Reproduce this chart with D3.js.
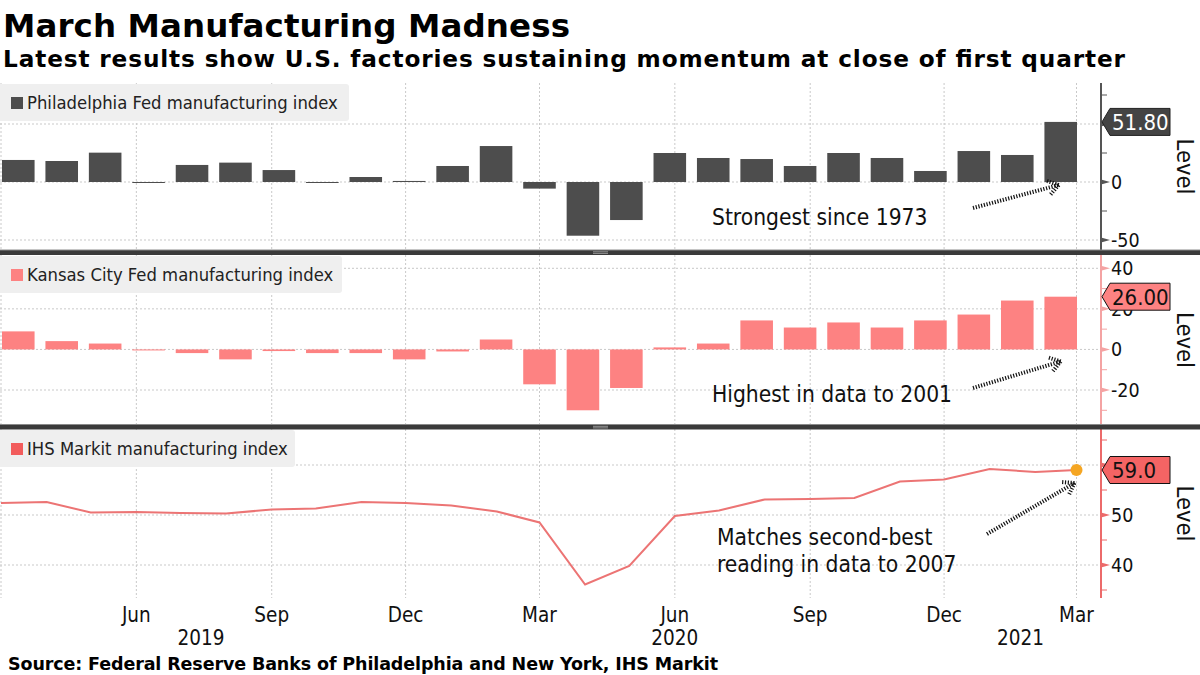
<!DOCTYPE html>
<html><head><meta charset="utf-8">
<script src="https://cdn.jsdelivr.net/npm/d3@7"></script>
<style>
html,body{margin:0;padding:0;background:#fff;}
svg{display:block;}
text{font-family:"DejaVu Sans Condensed","DejaVu Sans",sans-serif;}
text.bold{font-family:"DejaVu Sans",sans-serif;font-weight:bold;}
</style></head><body><svg id="c" width="1200" height="675"></svg>
<script>
// ---------------- data ----------------
const months = ["2019-03","2019-04","2019-05","2019-06","2019-07","2019-08","2019-09","2019-10","2019-11","2019-12",
  "2020-01","2020-02","2020-03","2020-04","2020-05","2020-06","2020-07","2020-08","2020-09","2020-10","2020-11","2020-12",
  "2021-01","2021-02","2021-03"];
const phillyFed = [19.0,18.1,25.3,-0.5,14.7,16.7,10.3,-0.5,4.3,0.9,13.8,31.0,-5.7,-46.3,-32.8,25.0,20.7,19.8,13.8,25.0,20.7,9.5,26.7,23.3,51.8];
const kansasCityFed = [8.9,4.1,2.9,-0.2,-1.8,-4.9,-0.8,-1.8,-1.8,-4.9,-1.0,4.9,-17.2,-30.0,-19.0,1.0,2.9,14.3,10.8,13.3,10.8,14.3,17.2,24.1,26.0];
const ihsMarkit = [52.4,52.6,50.5,50.6,50.4,50.3,51.1,51.3,52.6,52.4,51.9,50.7,48.5,36.1,39.8,49.8,50.9,53.1,53.2,53.4,56.7,57.1,59.2,58.6,59.0];
const seriesNames = ["Philadelphia Fed manufacturing index","Kansas City Fed manufacturing index","IHS Markit manufacturing index"];
const lastLabels = ["51.80","26.00","59.0"];
const phillyTicks = [-50,0,50], phillyMinor = [-25,25,75], phillyLabels = [-50,0];
const kcTicks = [-20,0,20,40], kcMinor = [-30,-10,10,30], kcLabels = [-20,0,20,40];
const ihsTicks = [40,50,60], ihsMinor = [35,45,55,65], ihsLabels = [40,50];
const quarterTicks = ["2019-03","2019-06","2019-09","2019-12","2020-03","2020-06","2020-09","2020-12","2021-03"];
const yearLabels = [["2019","2019-07-15"],["2020","2020-06-01"],["2021","2021-01-22"]];
const annotations = [["Strongest since 1973"],["Highest in data to 2001"],["Matches second-best","reading in data to 2007"]];
const title = "March Manufacturing Madness";
const subtitle = "Latest results show U.S. factories sustaining momentum at close of first quarter";
const source = "Source: Federal Reserve Banks of Philadelphia and New York, IHS Markit";

// ---------------- setup ----------------
const svg = d3.select("#c");
const W = 1200, H = 675, axisX = 1101;
const parseM = d3.timeParse("%Y-%m"), parseD = d3.timeParse("%Y-%m-%d");
const dates = months.map(parseM);
svg.append("rect").attr("width",W).attr("height",H).attr("fill","#fff");

const xTime = d3.scaleTime().domain([parseM("2019-03"), parseM("2021-03")]).range([1, 1076.5]);
const xBand = d3.scaleBand().domain(months).range([2, 1077]).paddingInner(0.25).paddingOuter(0);

const panels = [
  {top:83, bottom:250, y:d3.scaleLinear().domain([-50,50]).range([240,124]), major:phillyTicks, minor:phillyMinor, labels:phillyLabels,
   axisColor:"#555555", color:"#4d4d4d", flagFill:"#444444", flagText:"#ffffff", flagStroke:"#222", data:phillyFed, type:"bar"},
  {top:255, bottom:425, y:d3.scaleLinear().domain([-20,40]).range([390,268.3]), major:kcTicks, minor:kcMinor, labels:kcLabels,
   axisColor:"#f4a3a3", color:"#fd8282", flagFill:"#fd8282", flagText:"#111", flagStroke:"#111", data:kansasCityFed, type:"bar"},
  {top:429, bottom:598, y:d3.scaleLinear().domain([40,60]).range([565,465]), major:ihsTicks, minor:ihsMinor, labels:ihsLabels,
   axisColor:"#ec6a6a", color:"#ec7474", flagFill:"#f46464", flagText:"#111", flagStroke:"#111", data:ihsMarkit, type:"line"}
];
const legendColors = ["#4d4d4d","#fd8282","#f25c5c"];

// ---------------- panels ----------------
panels.forEach((p,i)=>{
  const g = svg.append("g");
  g.selectAll(".vg").data(quarterTicks).enter().append("line")
    .attr("x1",d=>xTime(parseM(d))).attr("x2",d=>xTime(parseM(d)))
    .attr("y1",p.top).attr("y2",p.bottom)
    .attr("stroke","#c9c9c9").attr("stroke-width",1).attr("stroke-dasharray","2,2");
  g.selectAll(".hg").data(p.major).enter().append("line")
    .attr("x1",0).attr("x2",axisX).attr("y1",d=>p.y(d)).attr("y2",d=>p.y(d))
    .attr("stroke","#c9c9c9").attr("stroke-width",1).attr("stroke-dasharray","2,2");

  // legend box
  const lg = g.append("g");
  const lgTop = p.top + 1;
  lg.append("rect").attr("x",-4).attr("y",lgTop).attr("rx",3).attr("height",37).attr("fill","#efefef")
    .attr("width", [353,346,299][i]);
  lg.append("rect").attr("x",11).attr("y",lgTop+13).attr("width",12).attr("height",12).attr("fill",legendColors[i]);
  lg.append("text").attr("x",27).attr("y",lgTop+25).attr("font-size",18.3).attr("fill","#222").text(seriesNames[i]);

  // marks
  if (p.type==="bar"){
    g.selectAll(".bar").data(p.data).enter().append("rect")
      .attr("x",(d,j)=>xBand(months[j])).attr("width",xBand.bandwidth())
      .attr("y",d=>Math.min(p.y(d),p.y(0))).attr("height",d=>Math.max(1,Math.abs(p.y(d)-p.y(0))))
      .attr("fill",p.color);
  } else {
    const line = d3.line().x((d,j)=>xTime(dates[j])).y(d=>p.y(d));
    g.append("path").datum(p.data).attr("d",line).attr("fill","none").attr("stroke",p.color).attr("stroke-width",2);
    const n = p.data.length-1;
    g.append("circle").attr("cx",xTime(dates[n])).attr("cy",p.y(p.data[n])).attr("r",6).attr("fill","#f5a623");
  }

  // axis
  g.append("line").attr("x1",axisX).attr("x2",axisX).attr("y1",p.top).attr("y2",p.bottom)
    .attr("stroke",p.axisColor).attr("stroke-width",2);
  g.selectAll(".mt").data(p.major).enter().append("path")
    .attr("d",d=>`M${axisX},${p.y(d)-2.5}L${axisX+9},${p.y(d)}L${axisX},${p.y(d)+2.5}Z`).attr("fill",p.axisColor);
  g.selectAll(".mn").data(p.minor).enter().append("line")
    .attr("x1",axisX).attr("x2",axisX+6).attr("y1",d=>p.y(d)).attr("y2",d=>p.y(d))
    .attr("stroke",p.axisColor).attr("stroke-width",1);
  g.selectAll(".tl").data(p.labels).enter().append("text")
    .attr("x",axisX+10).attr("y",d=>p.y(d)+7).attr("font-size",19.5).attr("fill","#111")
    .text(d=>d3.format("d")(d).replace("−","-"));
  g.append("text").attr("transform",`translate(1177,${(p.top+p.bottom)/2}) rotate(90)`)
    .attr("text-anchor","middle").attr("font-size",23.5).attr("fill","#111").text("Level");

  // last value flag
  const lv = p.data[p.data.length-1], cy = p.y(lv);
  g.append("path").attr("d",`M${axisX+1},${cy}L${axisX+9},${cy-13.5}L1170,${cy-13.5}L1170,${cy+13.5}L${axisX+9},${cy+13.5}Z`)
    .attr("fill",p.flagFill).attr("stroke",p.flagStroke).attr("stroke-width",1);
  g.append("text").attr("x",1112).attr("y",cy+8).attr("font-size",22).attr("fill",p.flagText).text(lastLabels[i]);
});

// ---------------- annotations ----------------
function dottedArrow(x1,y1,x2,y2){
  const g = svg.append("g").attr("stroke","#111").attr("stroke-width",4).attr("stroke-dasharray","1.2,1.6").attr("fill","none");
  g.append("line").attr("x1",x1).attr("y1",y1).attr("x2",x2).attr("y2",y2);
  const a = Math.atan2(y1-y2, x1-x2), L = 13;
  [0.6,-0.6].forEach(s=>{
    g.append("line").attr("x1",x2).attr("y1",y2)
      .attr("x2",x2+L*Math.cos(a+s)).attr("y2",y2+L*Math.sin(a+s));
  });
}
const n = months.length-1;
const barCx = xBand(months[n]) + xBand.bandwidth()/2;
dottedArrow(973,208, barCx-2, panels[0].y(0)+3);
dottedArrow(973,388, barCx, panels[1].y(0)+12);
dottedArrow(987,534, xTime(dates[n])-2, panels[2].y(ihsMarkit[n])+13);

const annPos = [[712,225],[712,402],[717,545]];
annotations.forEach((lines,i)=>{
  lines.forEach((t,k)=>{
    svg.append("text").attr("x",annPos[i][0]).attr("y",annPos[i][1]+k*27).attr("font-size",22.6).attr("fill","#111").text(t);
  });
});

// ---------------- separators ----------------
[250,424.5].forEach(y=>{
  svg.append("rect").attr("x",0).attr("y",y).attr("width",W).attr("height",5).attr("fill","#3a3a3a");
  svg.append("line").attr("x1",0).attr("x2",W).attr("y1",y).attr("y2",y).attr("stroke","#8a8a8a").attr("stroke-width",1);
  [1.8,3.4].forEach(dy=>svg.append("line").attr("x1",593).attr("x2",608).attr("y1",y+dy).attr("y2",y+dy)
    .attr("stroke","#aaa").attr("stroke-width",0.8));
});

// ---------------- x axis labels ----------------
const fmtM = d3.timeFormat("%b");
svg.selectAll(".xl").data(quarterTicks.filter(d=>xTime(parseM(d))>20)).enter().append("text")
  .attr("x",d=>xTime(parseM(d))).attr("y",622).attr("text-anchor","middle").attr("font-size",20.5).attr("fill","#111")
  .text(d=>fmtM(parseM(d)));
svg.selectAll(".yl").data(yearLabels).enter().append("text")
  .attr("x",d=>xTime(parseD(d[1]))).attr("y",645).attr("text-anchor","middle").attr("font-size",20.5).attr("fill","#111")
  .text(d=>d[0]);

// ---------------- titles ----------------
svg.append("text").attr("class","bold").attr("x",3).attr("y",37).attr("font-size",32.5)
  .attr("textLength",567).attr("lengthAdjust","spacing").attr("fill","#000").text(title);
svg.append("text").attr("class","bold").attr("x",3).attr("y",67).attr("font-size",23.2)
  .attr("textLength",1122).attr("lengthAdjust","spacing").attr("fill","#000").text(subtitle);
svg.append("text").attr("class","bold").attr("x",8).attr("y",670).attr("font-size",17.5)
  .attr("textLength",710).attr("lengthAdjust","spacing").attr("fill","#000").text(source);
</script></body></html>
